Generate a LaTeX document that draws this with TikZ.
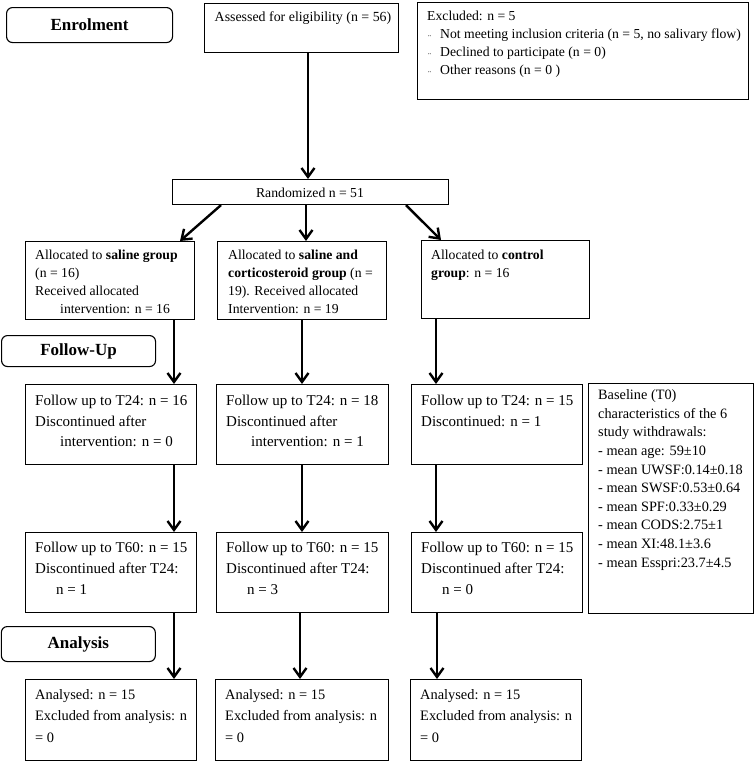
\documentclass[tikz,border=0pt]{standalone}
\usepackage{fontspec}
\setmainfont{Liberation Serif}
\usetikzlibrary{arrows.meta,calc}
\newcommand{\firstrule}{\rule{0pt}{10pt}}
\newcommand{\ind}{\hspace*{25pt}}
\newcommand{\blt}{\hspace*{1pt}\makebox[12pt][l]{\raisebox{-3pt}{\small ¨}}}
\tikzset{
  box/.style={draw, line width=1.1pt, inner sep=0pt, anchor=north west},
  hdr/.style={draw, line width=1.1pt, rounded corners=6pt, inner sep=0pt, anchor=north west,
    font=\fontsize{17}{20}\selectfont\bfseries},
  txt/.style 2 args={inner sep=0pt, anchor=north west, align=left, font=\fontsize{#1}{#2}\selectfont},
  arr/.style={-{Straight Barb[length=9pt,width=13pt]}, line width=2.4pt}
}
\begin{document}
\begin{tikzpicture}[x=1pt,y=-1pt]
\useasboundingbox (0,0) rectangle (754,761);
% headers
\node[hdr, minimum width=166pt, minimum height=35pt] (enr) at (6,7) {Enrolment};
\node[hdr, minimum width=154pt, minimum height=31pt] (fol) at (1,335) {Follow-Up};
\node[hdr, minimum width=154pt, minimum height=35pt] (ana) at (0.8,626) {Analysis};
% enrolment
\node[box, minimum width=194pt, minimum height=49pt] (ass) at (204,3) {};
\node[txt={13.9}{18}, anchor=north, align=center] (asst) at (303,11) {\firstrule Assessed for eligibility (n = 56)};
\node[box, minimum width=331pt, minimum height=97pt] (exc) at (417,1.5) {};
\node[txt={13.7}{18}] (exct) at (427,10) {\firstrule Excluded: n = 5\\
\blt Not meeting inclusion criteria (n = 5, no salivary flow)\\
\blt Declined to participate (n = 0)\\
\blt Other reasons (n = 0 )};
\node[box, minimum width=276pt, minimum height=25pt] (ran) at (172,179) {};
\node[txt={13.7}{18}, anchor=base] (rant) at (310,197.5) {Randomized n = 51};
% allocation
\node[box, minimum width=169pt, minimum height=78pt] (a1) at (25,241) {};
\node[box, minimum width=169pt, minimum height=78pt] (a2) at (217,241) {};
\node[box, minimum width=168pt, minimum height=78pt] (a3) at (421,240) {};
\node[txt={13.7}{18}] (a1t) at (35,249.7) {\firstrule Allocated to \textbf{saline group}\\(n = 16)\\Received allocated\\\ind intervention: n = 16};
\node[txt={13.7}{18}] (a2t) at (228,249.7) {\firstrule Allocated to \textbf{saline and}\\\textbf{corticosteroid group} (n =\\19). Received allocated\\Intervention: n = 19};
\node[txt={13.7}{18}] (a3t) at (431,249) {\firstrule Allocated to \textbf{control}\\\textbf{group}: n = 16};
% follow up T24
\node[box, minimum width=171pt, minimum height=80pt] (f1) at (25,384) {};
\node[box, minimum width=172pt, minimum height=80pt] (f2) at (216,384) {};
\node[box, minimum width=171pt, minimum height=80pt] (f3) at (411,384) {};
\node[txt={15}{20.5}] (f1t) at (35,395) {\firstrule Follow up to T24: n = 16\\Discontinued after\\\ind intervention: n = 0};
\node[txt={15}{20.5}] (f2t) at (226,395) {\firstrule Follow up to T24: n = 18\\Discontinued after\\\ind intervention: n = 1};
\node[txt={15}{20.5}] (f3t) at (421,395) {\firstrule Follow up to T24: n = 15\\Discontinued: n = 1};
% baseline box
\node[box, minimum width=165pt, minimum height=230pt] (bas) at (588,383) {};
\node[txt={14.3}{18.6}] (bast) at (598,389.5) {\firstrule Baseline (T0)\\characteristics of the 6\\study withdrawals:\\- mean age: 59±10\\- mean UWSF:0.14±0.18\\- mean SWSF:0.53±0.64\\- mean SPF:0.33±0.29\\- mean CODS:2.75±1\\- mean XI:48.1±3.6\\- mean Esspri:23.7±4.5};
% follow up T60
\node[box, minimum width=171pt, minimum height=80pt] (t1) at (25,532) {};
\node[box, minimum width=172pt, minimum height=80pt] (t2) at (216,532) {};
\node[box, minimum width=171pt, minimum height=80pt] (t3) at (411,532) {};
\node[txt={15}{21}] (t1t) at (35,542) {\firstrule Follow up to T60: n = 15\\Discontinued after T24:\\\hspace*{21pt}n = 1};
\node[txt={15}{21}] (t2t) at (226,542) {\firstrule Follow up to T60: n = 15\\Discontinued after T24:\\\hspace*{21pt}n = 3};
\node[txt={15}{21}] (t3t) at (421,542) {\firstrule Follow up to T60: n = 15\\Discontinued after T24:\\\hspace*{21pt}n = 0};
% analysed
\node[box, minimum width=171pt, minimum height=81pt] (n1) at (25,679) {};
\node[box, minimum width=173pt, minimum height=81pt] (n2) at (215,679) {};
\node[box, minimum width=171pt, minimum height=81pt] (n3) at (410,679) {};
\node[txt={14.4}{21.5}] (n1t) at (35,689) {\firstrule Analysed: n = 15\\Excluded from analysis: n\\= 0};
\node[txt={14.4}{21.5}] (n2t) at (225,689) {\firstrule Analysed: n = 15\\Excluded from analysis: n\\= 0};
\node[txt={14.4}{21.5}] (n3t) at (420,689) {\firstrule Analysed: n = 15\\Excluded from analysis: n\\= 0};
% arrows
\draw[arr] ([xshift=104pt]ass.south west) -- ([xshift=104pt]ass.south west |- ran.north);
\draw[arr] ([xshift=49pt]ran.south west) -- ([xshift=155pt]a1.north west);
\draw[arr] ([xshift=134pt]ran.south west) -- ([xshift=134pt]ran.south west |- a2.north);
\draw[arr] ([xshift=234pt]ran.south west) -- ([xshift=20pt]a3.north west);
\draw[arr] ([xshift=149pt]a1.south west) -- ([xshift=149pt]a1.south west |- f1.north);
\draw[arr] ([xshift=85pt]a2.south west) -- ([xshift=85pt]a2.south west |- f2.north);
\draw[arr] ([xshift=15pt]a3.south west) -- ([xshift=15pt]a3.south west |- f3.north);
\draw[arr] ([xshift=149pt]f1.south west) -- ([xshift=149pt]f1.south west |- t1.north);
\draw[arr] ([xshift=86pt]f2.south west) -- ([xshift=86pt]f2.south west |- t2.north);
\draw[arr] ([xshift=25pt]f3.south west) -- ([xshift=25pt]f3.south west |- t3.north);
\draw[arr] ([xshift=149pt]t1.south west) -- ([xshift=149pt]t1.south west |- n1.north);
\draw[arr] ([xshift=84pt]t2.south west) -- ([xshift=84pt]t2.south west |- n2.north);
\draw[arr] ([xshift=26pt]t3.south west) -- ([xshift=26pt]t3.south west |- n3.north);
\end{tikzpicture}
\end{document}
